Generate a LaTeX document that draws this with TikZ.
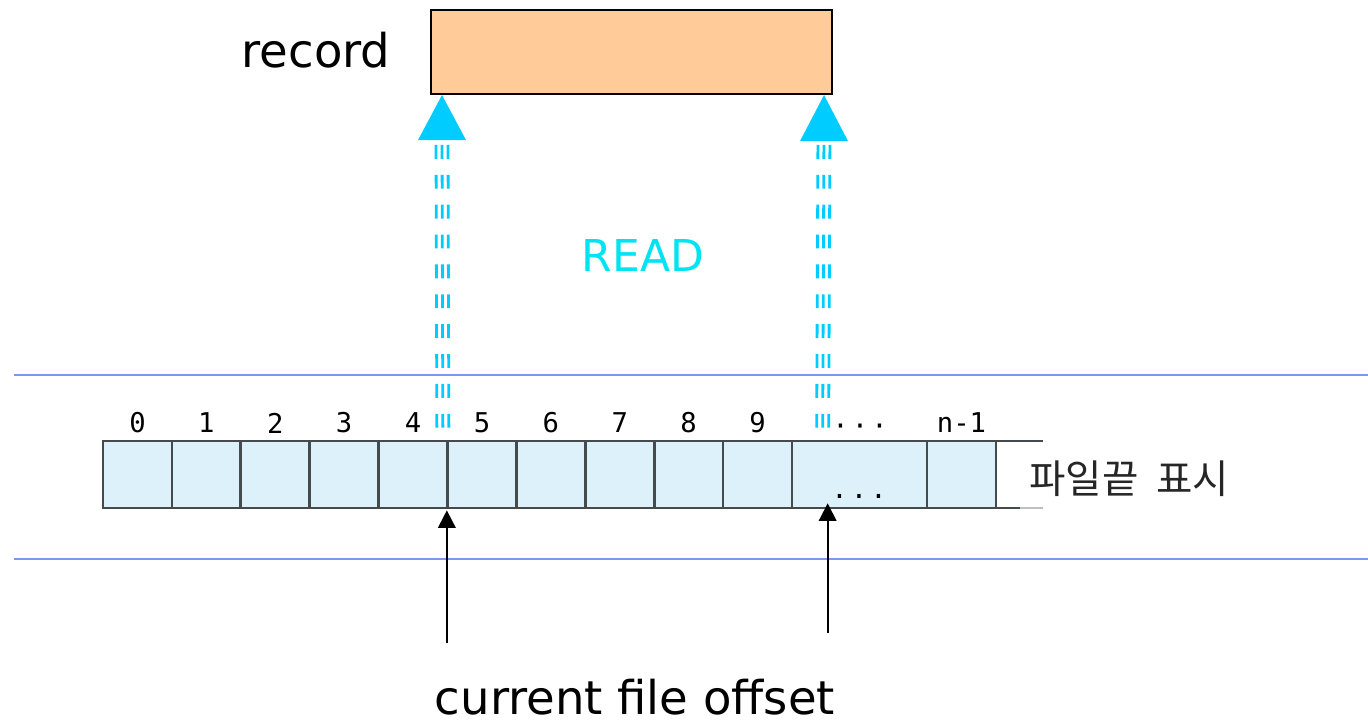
\documentclass[tikz,border=0pt]{standalone}
\usepackage{fontspec}
\setmainfont{DejaVu Sans}
\newfontfamily\krfont{Noto Sans CJK KR}
\newfontfamily\digitfont{DejaVu Sans Mono}
\usetikzlibrary{arrows.meta,calc}

\definecolor{peach}{HTML}{FFCC99}
\definecolor{cellblue}{HTML}{DDF1FB}
\definecolor{cellline}{HTML}{454A4C}
\definecolor{readcyan}{HTML}{00CCFF}
\definecolor{readtext}{HTML}{00E3F2}
\definecolor{bandline}{HTML}{7B96F5}

\tikzset{
  recbox/.style={draw=black, line width=1.2pt, fill=peach, minimum width=8.02cm,
                 minimum height=1.68cm, inner sep=0pt},
  cellbox/.style={fill=cellblue, minimum height=1.34cm, inner sep=0pt},
  cellframe/.style={draw=cellline, line width=1.1pt},
  biglabel/.style={font=\fontsize{26.5}{30}\selectfont, inner sep=0pt},
  readlabel/.style={font=\fontsize{25}{30}\selectfont, inner sep=0pt, text=readtext},
  idxlabel/.style={font=\digitfont\fontsize{15.5}{18}\selectfont, inner sep=0pt},
  krlabel/.style={font=\krfont\fontsize{22.5}{26}\selectfont, text=black!85, inner sep=0pt},
  readline/.style={readcyan, line width=1.6pt, dash pattern=on 7.9pt off 9.1pt},
  offsetarrow/.style={line width=1.1pt, -{Triangle[length=10pt,width=10pt]}},
  band/.style={bandline, line width=1.5pt}
}
\newcommand{\spreaddots}[1]{#1\hspace{1.8pt}#1\hspace{1.8pt}#1}

\begin{document}
\begin{tikzpicture}[x=0.02cm,y=-0.02cm]
\useasboundingbox (0,0) rectangle (1368,723);

% record buffer
\node[recbox] (rec) at (631.5,52) {};
\node[biglabel] (reclbl) at (316,50) {record};

% file band boundaries
\draw[band] (14,375) -- (1368,375);
\draw[band] (14,559) -- (1368,559);

% file cells 0..9, then the gap cell and the last cell
\foreach \i in {0,...,9}{
  \pgfmathsetmacro{\cx}{103+68.9*(\i+0.5)}
  \node[cellbox, minimum width=1.378cm] (c\i) at (\cx,474.5) {};
  \node[idxlabel] (l\i) at (\cx,423) {\i};
}
\node[cellbox, minimum width=2.7cm] (cdots) at (859.5,474.5) {};
\node[cellbox, minimum width=1.38cm] (cn) at (961.5,474.5) {};
% cell frames drawn on top so shared borders keep full width
\foreach \c in {c0,c1,c2,c3,c4,c5,c6,c7,c8,c9,cdots,cn}{
  \draw[cellframe] (\c.south west) rectangle (\c.north east);
}
\node[idxlabel] (ldots) at (860,430) {\spreaddots{·}};
\node[idxlabel] (ln) at (961.5,423) {n-1};
\node[idxlabel, anchor=base] (inner) at (859,498) {\spreaddots{.}};

% end-of-file marker rails
\draw[cellline, line width=1.1pt] (cn.north east) -- ++(47,0);
\draw[cellline, line width=1.1pt] (cn.south east) -- ++(24,0);
\draw[black!25, line width=1.1pt] ($(cn.south east)+(24,0)$) -- ++(23,0);
\node[krlabel, anchor=west] (eof) at (1029,479) {파일끝\hspace{0.45em}표시};

% READ transfer arrows
\coordinate (ltip) at ($(rec.south west)+(12,0)$);
\coordinate (rtip) at ($(rec.south east)+(-9,0)$);
\coordinate (lfoot) at ($(c4.north east)+(-5,-13)$);
\coordinate (rfoot) at ($(cdots.north west)+(31,-13)$);
\foreach \dx in {-6,0,6}{
  \draw[readline] ($(lfoot)+(\dx,0)$) -- ($(ltip |- 0,125)+(\dx,0)$);
  \draw[readline] ($(rfoot)+(\dx,0)$) -- ($(rtip |- 0,125)+(\dx,0)$);
}
\fill[readcyan] (ltip) -- ($(ltip)+(24,45)$) -- ($(ltip)+(-24,45)$) -- cycle;
\fill[readcyan] (rtip) -- ($(rtip)+(24,46)$) -- ($(rtip)+(-24,46)$) -- cycle;
\node[readlabel] (read) at (643,255) {READ};

% current file offset pointers
\coordinate (lhead) at ($(c4.south east)+(-1,2)$);
\coordinate (rhead) at ($(cdots.south west)+(36,-5)$);
\coordinate (loff) at ($(lhead)+(0,133)$);
\coordinate (roff) at ($(rhead)+(0,130)$);
\draw[offsetarrow] (loff) -- (lhead);
\draw[offsetarrow] (roff) -- (rhead);
\node[biglabel] (offlbl) at (635,697) {current file offset};
\end{tikzpicture}
\end{document}
